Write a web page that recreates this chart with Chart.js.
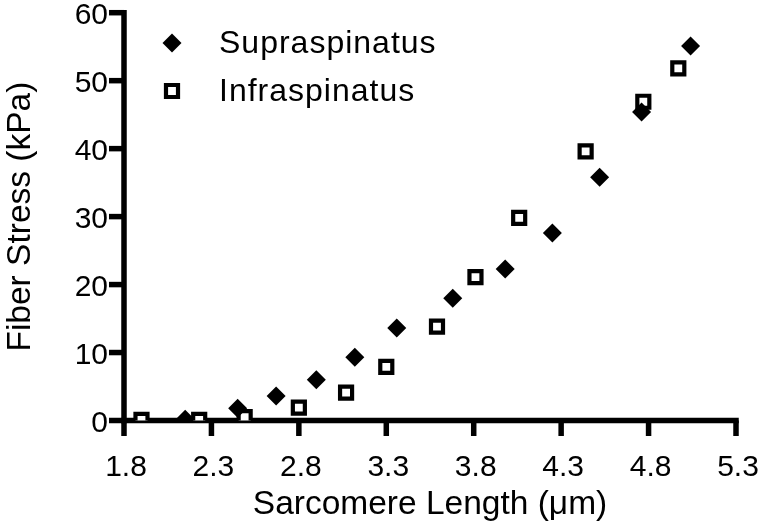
<!DOCTYPE html>
<html>
<head>
<meta charset="utf-8">
<script src="https://cdn.jsdelivr.net/npm/chart.js@4/dist/chart.umd.min.js"></script>
<style>
  html, body { margin: 0; padding: 0; background: #fff; }
  #wrap { position: relative; width: 759px; height: 531px; }
</style>
</head>
<body>
<div id="wrap"><canvas id="c" width="759" height="531"></canvas></div>
<script>
const seriesNames = ["Supraspinatus", "Infraspinatus"];
const supraX = [2.15, 2.45, 2.67, 2.90, 3.12, 3.36, 3.68, 3.98, 4.25, 4.52, 4.76, 5.04];
const supraY = [0.2, 1.8, 3.6, 6.0, 9.3, 13.6, 18.0, 22.3, 27.6, 35.8, 45.4, 55.1];
const infraX = [1.90, 2.23, 2.49, 2.80, 3.07, 3.30, 3.59, 3.81, 4.06, 4.44, 4.77, 4.97];
const infraY = [0.1, 0.1, 0.5, 1.9, 4.1, 7.9, 13.8, 21.1, 29.8, 39.6, 46.9, 51.8];
const xTicks = [1.8, 2.3, 2.8, 3.3, 3.8, 4.3, 4.8, 5.3];
const yTicks = [0, 10, 20, 30, 40, 50, 60];
const xTitle = "Sarcomere Length (μm)";
const yTitle = "Fiber Stress (kPa)";

const FONT = "'Liberation Sans', Arial, Helvetica, sans-serif";

const toPts = (xs, ys) => xs.map((x, i) => ({x: x, y: ys[i]}));

// thick axis lines and tick marks, positioned through the chart's own scales
const axesPlugin = {
  id: 'thickAxes',
  beforeDatasetsDraw(chart) {
    const ctx = chart.ctx;
    const xs = chart.scales.x, ys = chart.scales.y;
    const x0 = xs.getPixelForValue(xTicks[0]);
    const x1 = xs.getPixelForValue(xTicks[xTicks.length - 1]);
    const y0 = ys.getPixelForValue(yTicks[0]);
    const y1 = ys.getPixelForValue(yTicks[yTicks.length - 1]);
    const w = 5.5;
    ctx.save();
    ctx.strokeStyle = '#000';
    ctx.lineWidth = w;
    ctx.lineCap = 'butt';
    ctx.beginPath();
    ctx.moveTo(x0, y1 - w / 2);
    ctx.lineTo(x0, y0 + w / 2);
    ctx.stroke();
    ctx.beginPath();
    ctx.moveTo(x0 - w / 2, y0);
    ctx.lineTo(x1 + w / 2, y0);
    ctx.stroke();
    yTicks.forEach(v => {
      const p = ys.getPixelForValue(v);
      ctx.beginPath();
      ctx.moveTo(x0 - 15, p);
      ctx.lineTo(x0, p);
      ctx.stroke();
    });
    xTicks.forEach(v => {
      const p = xs.getPixelForValue(v);
      ctx.beginPath();
      ctx.moveTo(p, y0);
      ctx.lineTo(p, y0 + 15.5);
      ctx.stroke();
    });
    ctx.restore();
  }
};

const legendPlugin = {
  id: 'customLegend',
  afterDraw(chart) {
    const ctx = chart.ctx;
    const ds = chart.data.datasets;
    const items = [
      {mx: 172, my: 43, ty: 53},
      {mx: 172, my: 91, ty: 101}
    ];
    ctx.save();
    ds.forEach((d, i) => {
      const it = items[i];
      ctx.fillStyle = d.pointBackgroundColor;
      ctx.strokeStyle = d.pointBorderColor;
      ctx.lineWidth = d.pointBorderWidth;
      Chart.helpers.drawPoint(ctx, {pointStyle: d.pointStyle, radius: d.pointRadius, borderWidth: d.pointBorderWidth}, it.mx, it.my);
      ctx.fillStyle = '#000';
      ctx.font = "32px " + FONT;
      try { ctx.letterSpacing = '1px'; } catch (e) {}
      ctx.textBaseline = 'alphabetic';
      ctx.textAlign = 'left';
      ctx.fillText(d.label, 219, it.ty);
    });
    ctx.restore();
  }
};

new Chart(document.getElementById('c'), {
  type: 'scatter',
  data: {
    datasets: [
      {
        label: seriesNames[0],
        data: toPts(supraX, supraY),
        pointStyle: 'rectRot',
        pointRadius: 9.5,
        pointHoverRadius: 9.5,
        pointBackgroundColor: '#000',
        pointBorderColor: '#000',
        pointBorderWidth: 0
      },
      {
        label: seriesNames[1],
        data: toPts(infraX, infraY),
        pointStyle: 'rect',
        pointRadius: 8.5,
        pointHoverRadius: 8.5,
        pointBackgroundColor: '#fff',
        pointBorderColor: '#000',
        pointBorderWidth: 4.2
      }
    ]
  },
  options: {
    responsive: false,
    animation: false,
    devicePixelRatio: 1,
    layout: { padding: { top: 12.5, right: 23, left: 0, bottom: 0 } },
    plugins: { legend: { display: false }, tooltip: { enabled: false } },
    scales: {
      x: {
        type: 'linear',
        min: xTicks[0],
        max: xTicks[xTicks.length - 1],
        afterBuildTicks(scale) { scale.ticks = xTicks.map(v => ({value: v})); },
        afterFit(scale) { scale.height = 110.5; scale.paddingLeft = 0; scale.paddingRight = 0; },
        border: { display: false },
        grid: { drawOnChartArea: false, drawTicks: true, tickLength: 13, tickColor: 'rgba(0,0,0,0)' },
        ticks: {
          color: '#000',
          font: { family: FONT, size: 30 },
          padding: 16,
          labelOffset: 2,
          maxRotation: 0,
          autoSkip: false,
          callback: (v) => Number(v).toFixed(1)
        },
        title: {
          display: true,
          text: xTitle,
          color: '#000',
          font: { family: FONT, size: 33.5 },
          padding: { top: 0, bottom: 6 }
        }
      },
      y: {
        type: 'linear',
        min: yTicks[0],
        max: yTicks[yTicks.length - 1],
        afterBuildTicks(scale) { scale.ticks = yTicks.map(v => ({value: v})); },
        afterFit(scale) { scale.width = 124; scale.paddingTop = 0; scale.paddingBottom = 0; },
        border: { display: false },
        grid: { drawOnChartArea: false, drawTicks: true, tickLength: 12, tickColor: 'rgba(0,0,0,0)' },
        ticks: {
          color: '#000',
          font: { family: FONT, size: 30 },
          padding: 4,
          labelOffset: 3,
          autoSkip: false,
          callback: (v) => String(v)
        },
        title: {
          display: true,
          text: yTitle,
          color: '#000',
          font: { family: FONT, size: 33.5 },
          padding: { top: 1, bottom: 0 }
        }
      }
    }
  },
  plugins: [axesPlugin, legendPlugin]
});
</script>
</body>
</html>
